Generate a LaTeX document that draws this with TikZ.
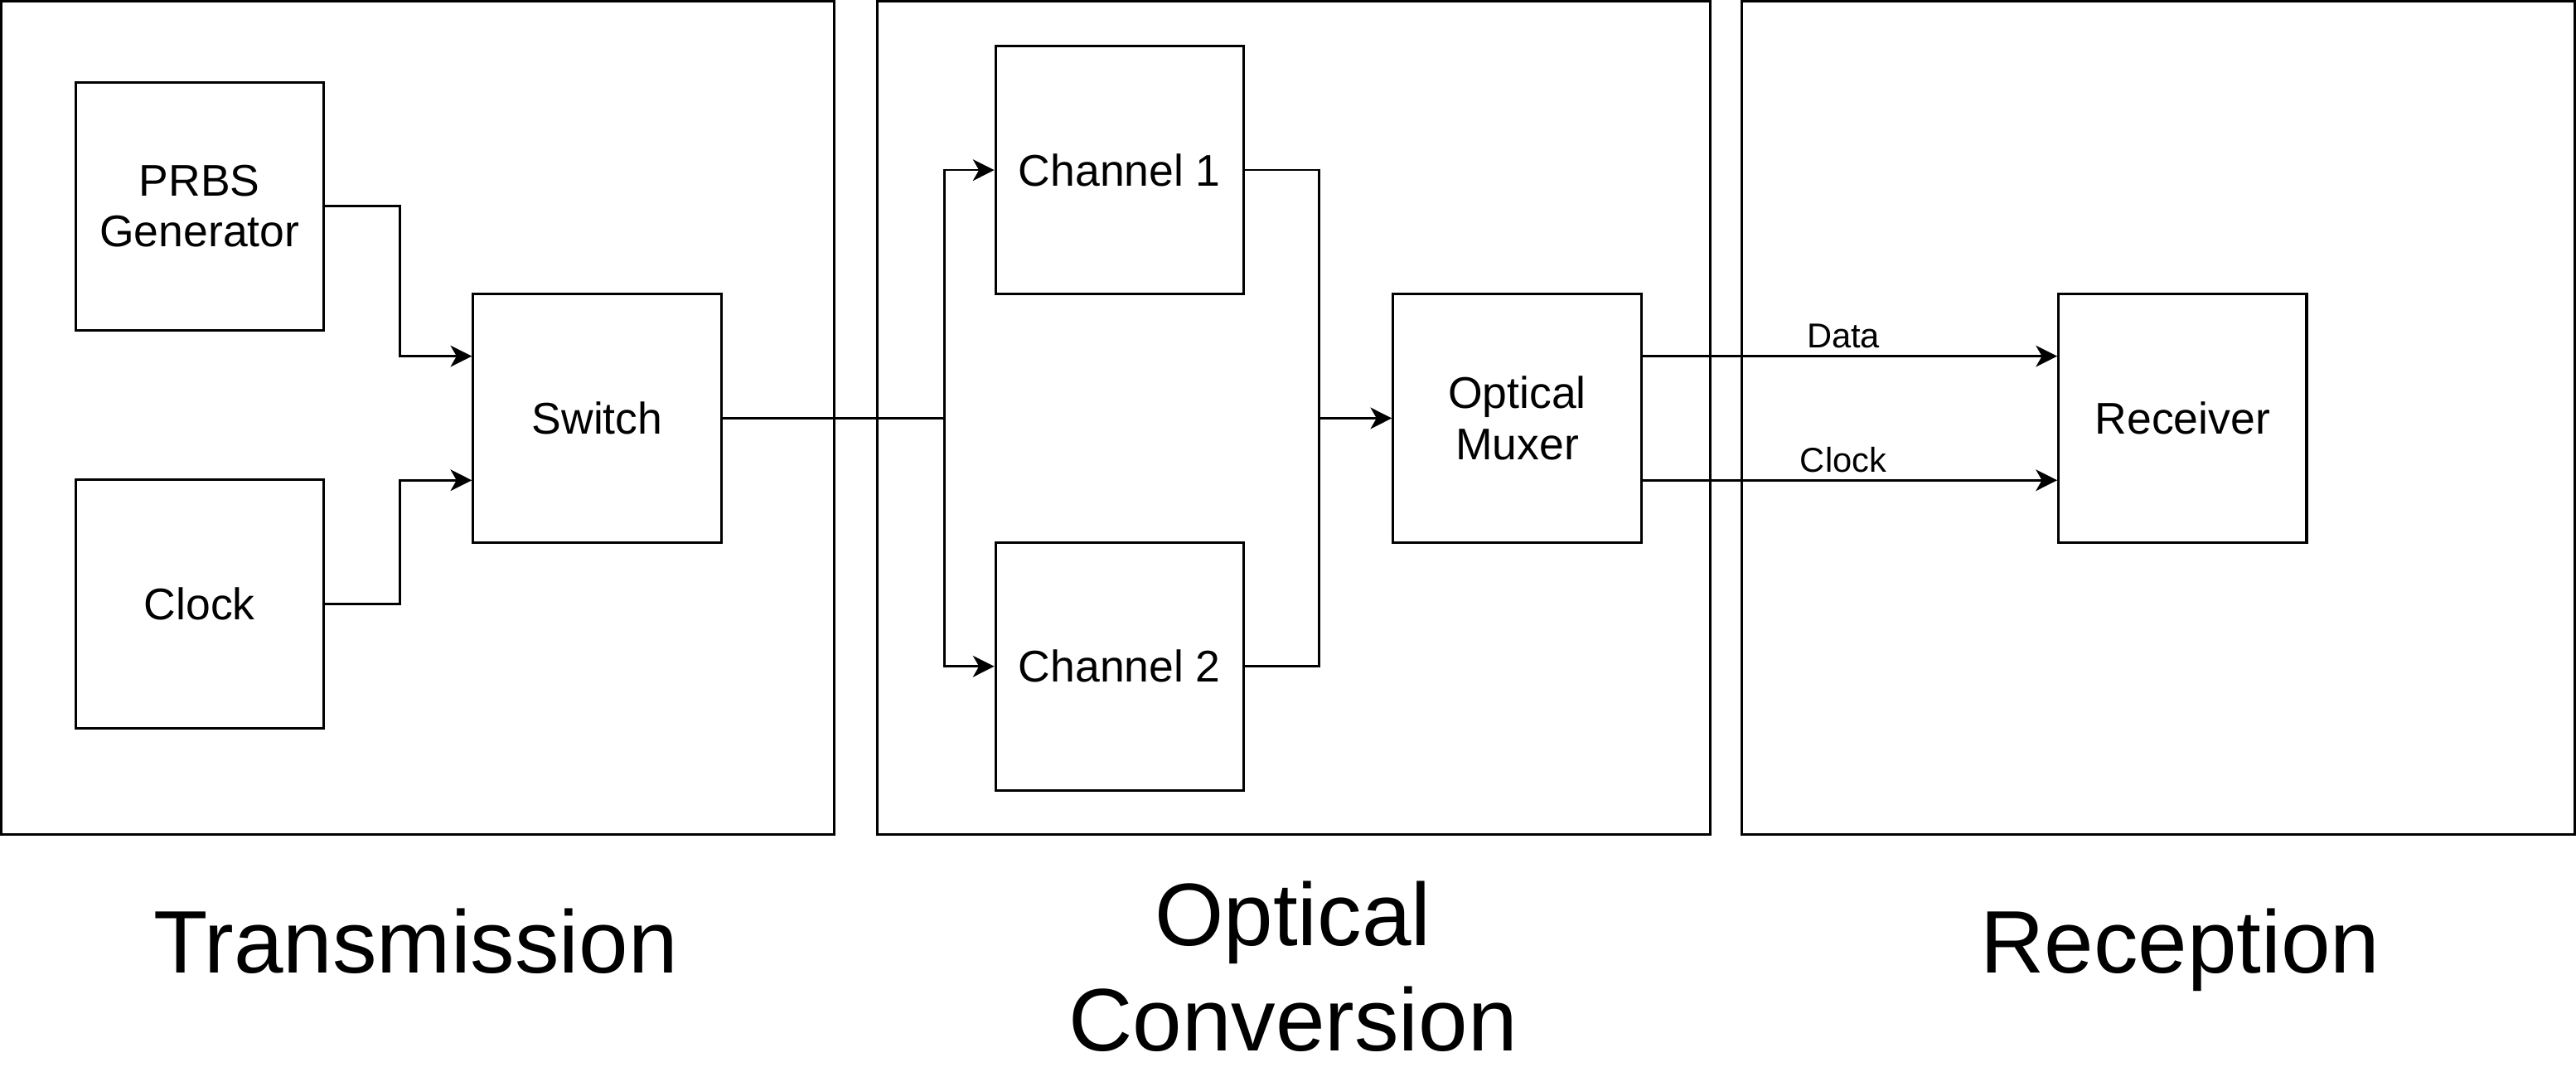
\documentclass[tikz,border=0pt]{standalone}
\usepackage{fontspec}
\setmainfont{Liberation Sans}
\usetikzlibrary{arrows.meta}
\begin{document}
\begin{tikzpicture}[x=1pt,y=-1pt,
  frame/.style={draw,line width=1.5pt,minimum width=507pt,minimum height=507pt,inner sep=0pt},
  blk/.style={draw,line width=1.6pt,minimum width=151pt,minimum height=151pt,inner sep=0pt,align=center,font=\fontsize{27}{31}\selectfont},
  wire/.style={line width=1.35pt},
  arr/.style={wire,-{Stealth[length=13pt,width=13pt,inset=3.7pt]}},
  elabel/.style={font=\fontsize{21}{25}\selectfont,inner sep=2pt},
  title/.style={font=\fontsize{54}{64}\selectfont,align=center}]
\useasboundingbox (0,0) rectangle (1568,652);
% frames
\node[frame] (ft) at (254.5,254.5) {};
\node[frame] (fo) at (787.5,254.5) {};
\node[frame] (fr) at (1313.5,254.5) {};
% blocks
\node[blk] (prbs) at (121.5,125.5) {PRBS\\Generator};
\node[blk] (clk) at (121.5,367.5) {Clock};
\node[blk] (sw) at (363.5,254.5) {Switch};
\node[blk] (ch1) at (681.5,103.5) {Channel 1};
\node[blk] (ch2) at (681.5,405.5) {Channel 2};
\node[blk] (mux) at (923.5,254.5) {Optical\\Muxer};
\node[blk] (rx) at (1328.5,254.5) {Receiver};
% connectors
\draw[arr] (prbs.east) -- ++(45.5,0) |- ([yshift=37.75pt]sw.west);
\draw[arr] (clk.east) -- ++(45.5,0) |- ([yshift=-37.75pt]sw.west);
\coordinate (split) at (575,254.5);
\coordinate (merge) at (803,254.5);
\draw[wire] (sw.east) -- (split);
\draw[arr] (split) |- (ch1.west);
\draw[arr] (split) |- (ch2.west);
\draw[wire] (ch1.east) -| (merge);
\draw[wire] (ch2.east) -| (merge);
\draw[arr] (merge) -- (mux.west);
\draw[arr] ([yshift=37.75pt]mux.east) -- node[elabel,above,xshift=-4pt,yshift=2pt] {Data} ([yshift=37.75pt]rx.west);
\draw[arr] ([yshift=-37.75pt]mux.east) -- node[elabel,above,xshift=-4pt,yshift=2pt] {Clock} ([yshift=-37.75pt]rx.west);
% titles
\node[title,anchor=base] (tt) at (253,592) {Transmission};
\node[title] (to) at (787,588) {Optical\\Conversion};
\node[title,anchor=base] (tr) at (1327,592) {Reception};
\end{tikzpicture}
\end{document}
